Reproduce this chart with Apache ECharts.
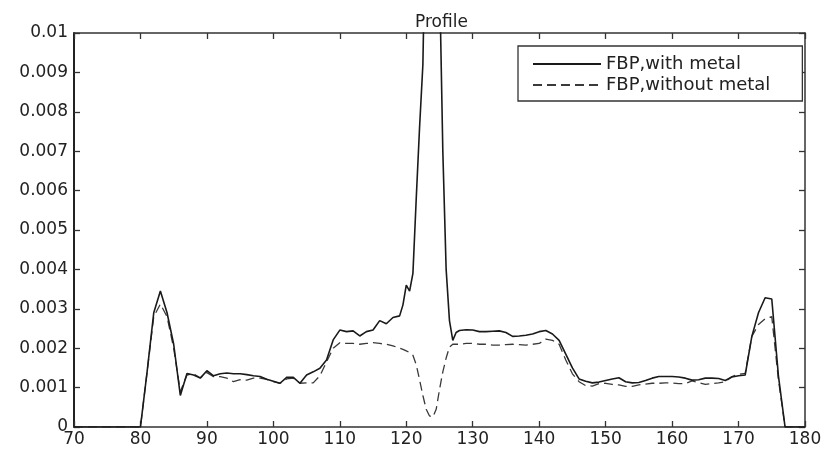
<!DOCTYPE html>
<html>
<head>
<meta charset="utf-8">
<script src="https://cdn.jsdelivr.net/npm/echarts@6/dist/echarts.min.js"></script>
<style>
  html, body { margin: 0; padding: 0; background: #fff; }
  #chart { width: 824px; height: 455px; }
</style>
</head>
<body>
<div id="chart"></div>
<script>
// Profile positions (pixel index along the line profile)
const positions = [
  70, 80, 81, 82, 83, 84, 85, 86, 87, 88, 89, 90, 91, 92, 93, 94, 95, 96, 97, 98, 99,
  100, 101, 102, 103, 104, 105, 106, 107, 108, 109, 110, 111, 112, 113, 114, 115, 116, 117, 118, 119,
  119.5, 120, 120.5, 121, 121.5, 122, 122.5, 123, 123.5, 124, 124.5, 125, 125.5, 126, 126.5, 127, 127.5, 128,
  129, 130, 131, 132, 133, 134, 135, 136, 137, 138, 139, 140, 141, 142, 143, 144, 145, 146, 147, 148, 149,
  150, 151, 152, 153, 154, 155, 156, 157, 158, 159, 160, 161, 162, 163, 164, 165, 166, 167, 168, 169,
  170, 171, 172, 173, 174, 175, 176, 177, 180
];

// FBP reconstruction, with metal
const withMetal = [
  0, 0, 0.0014, 0.0029, 0.00345, 0.0029, 0.0021, 0.0008, 0.00136, 0.00132, 0.00124, 0.00143, 0.0013, 0.00135, 0.00137, 0.00135, 0.00135, 0.00133, 0.0013, 0.00128, 0.00121,
  0.00116, 0.00111, 0.00126, 0.00126, 0.00111, 0.00132, 0.0014, 0.00149, 0.0017, 0.00221, 0.00246, 0.00242, 0.00244, 0.00231, 0.00242, 0.00246, 0.0027, 0.00262, 0.00278, 0.00282,
  0.0031, 0.0036, 0.00345, 0.0039, 0.0058, 0.0076, 0.0092, 0.014, 0.025, 0.03, 0.024, 0.0115, 0.007, 0.004, 0.0027, 0.0022, 0.0024, 0.00245,
  0.00247, 0.00246, 0.00242, 0.00242, 0.00243, 0.00244, 0.0024, 0.0023, 0.00231, 0.00233, 0.00236, 0.00242, 0.00245, 0.00236, 0.0022, 0.00185, 0.0015, 0.00122, 0.00116, 0.00112, 0.00114,
  0.00118, 0.00122, 0.00125, 0.00115, 0.00112, 0.00113, 0.00118, 0.00124, 0.00128, 0.00128, 0.00128, 0.00127, 0.00124, 0.00119, 0.0012, 0.00124, 0.00124, 0.00123, 0.00118, 0.00127,
  0.0013, 0.00132, 0.0023, 0.0029, 0.00328, 0.00325, 0.0013, 0, 0
];

// FBP reconstruction, without metal
const withoutMetal = [
  0, 0, 0.0014, 0.0028, 0.00312, 0.0028, 0.002, 0.0009, 0.00132, 0.00135, 0.00125, 0.00138, 0.00128, 0.00128, 0.00124, 0.00115, 0.0012, 0.00119, 0.00124, 0.00124, 0.00121,
  0.00115, 0.00111, 0.00122, 0.00124, 0.00111, 0.00112, 0.00112, 0.0013, 0.00165, 0.002, 0.00214, 0.00212, 0.00212, 0.0021, 0.00212, 0.00214, 0.00212, 0.0021, 0.00206, 0.002,
  0.00197, 0.00193, 0.00189, 0.00182, 0.00158, 0.0012, 0.0008, 0.00045, 0.00028, 0.00025, 0.00045, 0.00095, 0.0014, 0.00175, 0.00203, 0.0021, 0.0021, 0.0021,
  0.00212, 0.00212, 0.0021, 0.0021, 0.00208, 0.00208, 0.00209, 0.0021, 0.00209, 0.00208, 0.0021, 0.00212, 0.00223, 0.0022, 0.0021, 0.0017, 0.00135, 0.00115, 0.00105, 0.00104, 0.0011,
  0.00111, 0.00108, 0.00107, 0.00103, 0.00103, 0.00107, 0.00109, 0.00111, 0.00111, 0.00112, 0.00112, 0.0011, 0.0011, 0.00117, 0.00113, 0.00108, 0.0011, 0.00112, 0.00115, 0.00128,
  0.00134, 0.00136, 0.0023, 0.0026, 0.00275, 0.0028, 0.0012, 0, 0
];

const seriesNames = ['FBP,with metal', 'FBP,without metal'];
const xTicks = { min: 70, max: 180, step: 10 };
const yTicks = { min: 0, max: 0.01, step: 0.001 };

const FONT = 'DejaVu Sans';
const INK = '#222';

const pairs = (ys) => positions.map((x, i) => [x, ys[i]]);
const yFmt = (v) => (v === 0 ? '0' : String(Math.round(v * 1000) / 1000));

const baseAxis = {
  type: 'value',
  splitLine: { show: false },
  axisLine: { show: true, onZero: false, lineStyle: { color: '#333', width: 1.5 } },
  axisTick: { show: true, inside: true, length: 6, lineStyle: { color: '#333', width: 1.3 } },
  minorTick: { show: false }
};

const chart = echarts.init(document.getElementById('chart'), null, { renderer: 'canvas' });
chart.setOption({
  backgroundColor: '#fff',
  animation: false,
  title: {
    text: 'Profile',
    left: 410,
    top: 9,
    textStyle: { fontFamily: FONT, fontSize: 17, fontWeight: 'normal', color: INK }
  },
  legend: {
    orient: 'vertical',
    left: 518,
    top: 46,
    padding: [9, 32, 7, 14],
    itemGap: 3,
    itemWidth: 68,
    itemHeight: 15,
    backgroundColor: '#fff',
    borderColor: '#333',
    borderWidth: 1.3,
    borderRadius: 0,
    itemStyle: { opacity: 0, borderWidth: 0 },
    textStyle: { fontFamily: FONT, fontSize: 18, color: INK },
    data: seriesNames
  },
  grid: {
    left: 74, right: 19, top: 33, bottom: 28,
    containLabel: false,
    outerBoundsMode: 'none'
  },
  xAxis: [
    Object.assign({}, baseAxis, {
      position: 'bottom',
      min: xTicks.min, max: xTicks.max, interval: xTicks.step,
      axisLabel: { show: true, margin: 4, fontFamily: FONT, fontSize: 17, color: INK }
    }),
    Object.assign({}, baseAxis, {
      position: 'top',
      min: xTicks.min, max: xTicks.max, interval: xTicks.step,
      axisLabel: { show: false }
    })
  ],
  yAxis: [
    Object.assign({}, baseAxis, {
      position: 'left',
      min: yTicks.min, max: yTicks.max, interval: yTicks.step,
      axisLine: { show: true, onZero: false, lineStyle: { color: '#222', width: 2 } },
      axisLabel: { show: true, margin: 6, fontFamily: FONT, fontSize: 17, color: INK, formatter: yFmt }
    }),
    Object.assign({}, baseAxis, {
      position: 'right',
      min: yTicks.min, max: yTicks.max, interval: yTicks.step,
      axisLabel: { show: false }
    })
  ],
  series: [
    {
      name: seriesNames[0],
      type: 'line',
      data: pairs(withMetal),
      showSymbol: false,
      symbol: 'none',
      clip: true,
      lineStyle: { color: '#1a1a1a', width: 1.6, type: 'solid' },
      itemStyle: { color: '#1a1a1a' },
      z: 3
    },
    {
      name: seriesNames[1],
      type: 'line',
      data: pairs(withoutMetal),
      showSymbol: false,
      symbol: 'none',
      clip: true,
      lineStyle: { color: '#3a3a3a', width: 1.3, type: [9, 5] },
      itemStyle: { color: '#3a3a3a' },
      z: 2
    }
  ]
});
</script>
</body>
</html>
